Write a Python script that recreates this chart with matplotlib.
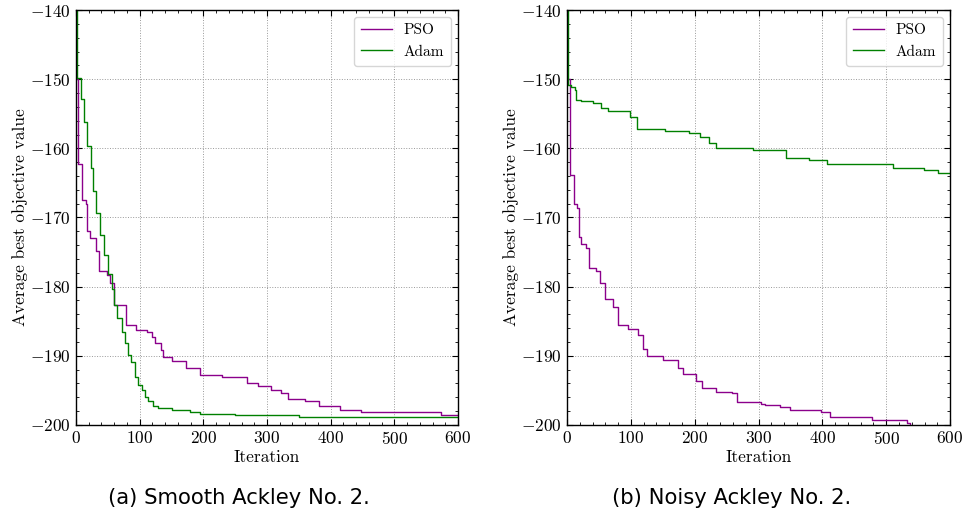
import numpy as np
import matplotlib.pyplot as plt

# ---- data: iteration where each step starts, and the value held from there ----
smooth_pso_it = [0, 3.7, 9, 16, 18, 22, 32, 36, 48, 53, 60, 78, 94, 111, 119, 124, 134, 137, 150,
                 172, 194, 230, 268, 286, 307, 322, 333, 359, 382, 414, 448, 573, 600]
smooth_pso_val = [-150, -162.3, -167.4, -168.0, -172.0, -173.0, -174.9, -177.8, -178.3, -179.4,
                  -182.6, -185.5, -186.3, -186.6, -187.3, -188.1, -189.2, -190.1, -190.7, -191.8,
                  -192.8, -193.0, -194.0, -194.3, -194.9, -195.4, -196.3, -196.6, -197.2, -197.8,
                  -198.1, -198.6, -198.6]

smooth_adam_it = [0, 1, 8, 12, 17, 23, 27, 32, 38, 44, 50, 56, 59, 64, 72, 77, 82, 87, 92, 98, 103,
                  108, 113, 121, 129, 150, 179, 194, 250, 351, 600]
smooth_adam_val = [-139, -149.8, -152.9, -156.2, -159.6, -162.9, -166.1, -169.4, -172.6, -175.4,
                   -178.2, -180.3, -182.6, -184.5, -186.5, -188.2, -189.9, -190.9, -193.0, -194.2,
                   -194.9, -195.9, -196.6, -197.2, -197.6, -197.8, -198.1, -198.4, -198.6, -198.8,
                   -198.8]

noisy_pso_it = [0, 4, 11, 16, 19, 22, 30, 35, 44.6, 51, 52.3, 60, 72.5, 80, 95, 111, 119, 126, 150,
                174, 181, 202, 211, 233, 259, 267, 304, 310, 334, 350, 398, 412, 477, 533, 537, 600]
noisy_pso_val = [-150, -163.8, -168.1, -168.6, -172.8, -173.8, -174.4, -177.3, -177.8, -178.3,
                 -179.5, -181.8, -183.0, -185.6, -186.1, -187.0, -189.0, -190.0, -190.6, -191.7,
                 -192.7, -193.7, -194.7, -195.2, -195.4, -196.7, -196.9, -197.1, -197.4, -197.9,
                 -198.1, -198.8, -199.3, -199.7, -200.3, -200.3]

noisy_adam_it = [0, 1.6, 6.8, 12, 14.6, 22, 40.5, 53.5, 64, 99, 110, 154, 191, 208, 223, 233, 291,
                 343, 379, 407, 511, 559, 581, 600]
noisy_adam_val = [-139, -150.8, -151.2, -151.6, -153.0, -153.2, -153.4, -154.2, -154.6, -155.4,
                  -157.2, -157.5, -157.8, -158.4, -159.2, -159.9, -160.2, -161.4, -161.7, -162.2,
                  -162.9, -163.2, -163.5, -163.5]

captions = ["(a) Smooth Ackley No. 2.", "(b) Noisy Ackley No. 2."]

plt.rcParams["font.family"] = "serif"
plt.rcParams["font.serif"] = ["cmr10"]
plt.rcParams["mathtext.fontset"] = "cm"
plt.rcParams["axes.formatter.use_mathtext"] = True
plt.rcParams["axes.unicode_minus"] = True

fig = plt.figure(figsize=(9.66, 5.16), dpi=100)
ax1 = fig.add_axes([0.0787, 0.1764, 0.3954, 0.8042])
ax2 = fig.add_axes([0.5870, 0.1764, 0.3965, 0.8042])

data = [(smooth_pso_it, smooth_pso_val, smooth_adam_it, smooth_adam_val),
        (noisy_pso_it, noisy_pso_val, noisy_adam_it, noisy_adam_val)]

for ax, (pi, pv, ai, av) in zip([ax1, ax2], data):
    ax.plot(pi, pv, drawstyle="steps-post", color="#8B008B", lw=1.0, label="PSO")
    ax.plot(ai, av, drawstyle="steps-post", color="#008000", lw=1.0, label="Adam")
    ax.set_xlim(0, 600)
    ax.set_ylim(-200, -140)
    ax.set_xticks(np.arange(0, 601, 100))
    ax.set_yticks(np.arange(-200, -139, 10))
    ax.set_xticks(np.arange(0, 601, 20), minor=True)
    ax.set_yticks(np.arange(-200, -139, 2), minor=True)
    ax.tick_params(which="both", direction="in", top=True, right=True, labelsize=12.5)
    ax.tick_params(which="major", length=4, width=0.8)
    ax.tick_params(which="minor", length=2, width=0.6)
    ax.grid(True, which="major", ls=":", color="#999999", lw=0.7)
    for s in ax.spines.values():
        s.set_linewidth(1.0)
    ax.set_xlabel("Iteration", fontsize=12.5, labelpad=2)
    ax.set_ylabel("Average best objective value", fontsize=12.5, labelpad=2)
    ax.legend(loc="upper right", fontsize=11, fancybox=True, edgecolor="#cccccc",
              handlelength=2.0, borderpad=0.45, borderaxespad=0.45)

fig.text(0.247, 0.015, captions[0], ha="center", va="bottom", fontsize=15.2,
         family="DejaVu Sans")
fig.text(0.757, 0.015, captions[1], ha="center", va="bottom", fontsize=15.2,
         family="DejaVu Sans")

fig.savefig("out.png", dpi=100)
